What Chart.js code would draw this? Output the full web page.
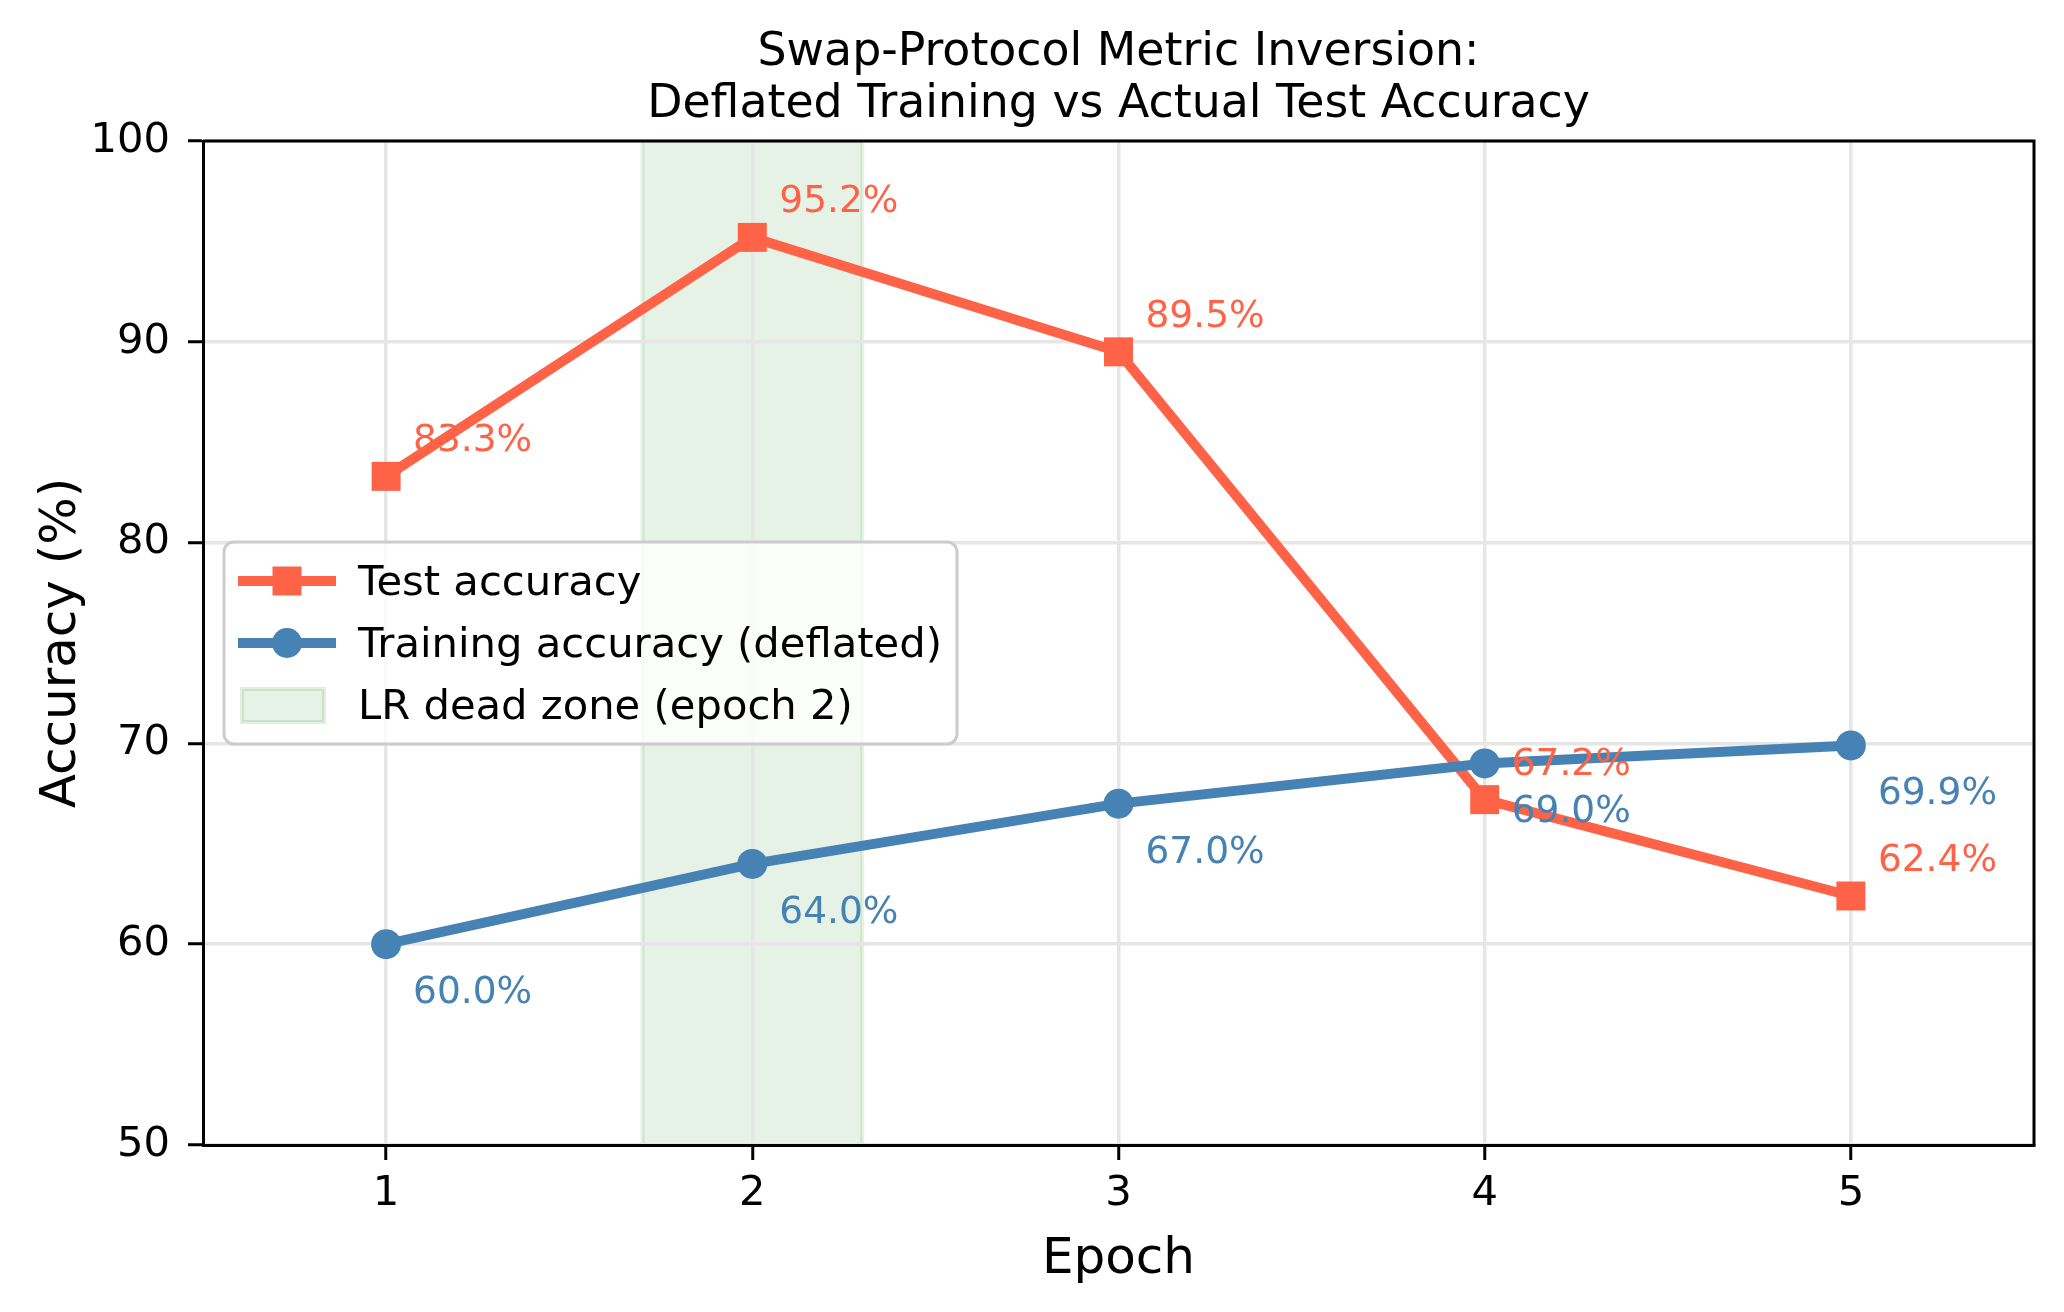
<!DOCTYPE html>
<html>
<head>
<meta charset="utf-8">
<script src="https://cdn.jsdelivr.net/npm/chart.js@4.4.1/dist/chart.umd.min.js"></script>
<style>
  body { margin: 0; background: #fff; }
  #wrap { width: 2064px; height: 1312px; }
</style>
</head>
<body>
<div id="wrap"><canvas id="mainChart" width="2064" height="1312"></canvas></div>
<script>
// ============================
// Data
// ============================
const epochs = [1, 2, 3, 4, 5];
const testAcc = [83.3, 95.2, 89.5, 67.2, 62.4];
const trainAcc = [60.0, 64.0, 67.0, 69.0, 69.9];
const yTicks = [50, 60, 70, 80, 90, 100];
const deadZone = [1.7, 2.3];

const titleLines = ["Swap-Protocol Metric Inversion:", "Deflated Training vs Actual Test Accuracy"];
const seriesLabels = ["Test accuracy", "Training accuracy (deflated)", "LR dead zone (epoch 2)"];

const RED = "#ff6347";
const BLUE = "#4682b4";
const FONT = "'DejaVu Sans', sans-serif";

Chart.defaults.font.family = FONT;
Chart.defaults.color = "#000";

// ============================
// Plugins
// ============================

// green shaded band, under the grid
const deadZonePlugin = {
  id: "deadZone",
  beforeDraw(chart) {
    const { ctx, chartArea, scales } = chart;
    const x0 = scales.x.getPixelForValue(deadZone[0]);
    const x1 = scales.x.getPixelForValue(deadZone[1]);
    ctx.save();
    ctx.fillStyle = "#fff";
    ctx.fillRect(0, 0, chart.width, chart.height);
    ctx.fillStyle = "rgba(0,128,0,0.1)";
    ctx.fillRect(x0, chartArea.top, x1 - x0, chartArea.bottom - chartArea.top);
    ctx.strokeStyle = "rgba(0,128,0,0.1)";
    ctx.lineWidth = 4;
    ctx.strokeRect(x0, chartArea.top, x1 - x0, chartArea.bottom - chartArea.top);
    ctx.restore();
  }
};

// value labels next to each point
const valueLabelPlugin = {
  id: "valueLabels",
  afterDatasetsDraw(chart) {
    const { ctx } = chart;
    ctx.save();
    ctx.font = "37.5px " + FONT;
    ctx.textAlign = "left";
    ctx.textBaseline = "alphabetic";
    chart.data.datasets.forEach((ds, i) => {
      const meta = chart.getDatasetMeta(i);
      ctx.fillStyle = ds.borderColor;
      meta.data.forEach((pt, j) => {
        const dy = ds.labelAbove ? -25 : 59;
        ctx.fillText(ds.data[j].y.toFixed(1) + "%", pt.x + 27, pt.y + dy);
      });
    });
    ctx.restore();
  }
};

// title, axis titles, spines and legend
const decorPlugin = {
  id: "decor",
  afterDraw(chart) {
    const { ctx, chartArea } = chart;
    const cx = (chartArea.left + chartArea.right) / 2;
    const cy = (chartArea.top + chartArea.bottom) / 2;
    ctx.save();

    // top and right spines
    ctx.strokeStyle = "#000";
    ctx.lineWidth = 3;
    ctx.beginPath();
    ctx.moveTo(chartArea.left, chartArea.top);
    ctx.lineTo(chartArea.right, chartArea.top);
    ctx.lineTo(chartArea.right, chartArea.bottom);
    ctx.stroke();

    // title
    ctx.fillStyle = "#000";
    ctx.textAlign = "center";
    ctx.textBaseline = "alphabetic";
    ctx.font = "45.8px " + FONT;
    ctx.fillText(titleLines[0], cx, 65);
    ctx.fillText(titleLines[1], cx, 117);

    // axis titles
    ctx.font = "50px " + FONT;
    ctx.fillText("Epoch", cx, 1273);
    ctx.save();
    ctx.translate(75, cy);
    ctx.rotate(-Math.PI / 2);
    ctx.fillText("Accuracy (%)", 0, 0);
    ctx.restore();

    // legend
    const lx = 224, ly = 542, lw = 733, lh = 202;
    ctx.beginPath();
    ctx.roundRect(lx, ly, lw, lh, 10);
    ctx.fillStyle = "rgba(255,255,255,0.8)";
    ctx.fill();
    ctx.strokeStyle = "#cccccc";
    ctx.lineWidth = 3;
    ctx.stroke();

    const rows = [581, 643, 705];
    const handles = [RED, BLUE];
    handles.forEach((col, i) => {
      const y = rows[i];
      ctx.strokeStyle = col;
      ctx.lineWidth = 10;
      ctx.beginPath();
      ctx.moveTo(238, y);
      ctx.lineTo(336, y);
      ctx.stroke();
      ctx.fillStyle = col;
      if (i === 0) {
        ctx.fillRect(287 - 14.5, y - 14.5, 29, 29);
      } else {
        ctx.beginPath();
        ctx.arc(287, y, 15, 0, Math.PI * 2);
        ctx.fill();
      }
    });
    ctx.fillStyle = "rgba(0,128,0,0.1)";
    ctx.fillRect(242, 689, 82, 33);
    ctx.strokeStyle = "rgba(0,128,0,0.12)";
    ctx.lineWidth = 4;
    ctx.strokeRect(242, 689, 82, 33);

    ctx.fillStyle = "#000";
    ctx.font = "41.7px " + FONT;
    ctx.textAlign = "left";
    ctx.textBaseline = "middle";
    seriesLabels.forEach((t, i) => ctx.fillText(t, 358, rows[i] + 3));

    ctx.restore();
  }
};

// ============================
// Chart
// ============================
const ctx = document.getElementById("mainChart").getContext("2d");

const mainChart = new Chart(ctx, {
  type: "line",
  data: {
    datasets: [
      {
        label: seriesLabels[0],
        data: epochs.map((e, i) => ({ x: e, y: testAcc[i] })),
        borderColor: RED,
        backgroundColor: RED,
        borderWidth: 10,
        pointStyle: "rect",
        pointRadius: 20.5,
        pointBorderWidth: 0,
        fill: false,
        order: 2,
        labelAbove: true
      },
      {
        label: seriesLabels[1],
        data: epochs.map((e, i) => ({ x: e, y: trainAcc[i] })),
        borderColor: BLUE,
        backgroundColor: BLUE,
        borderWidth: 10,
        pointStyle: "circle",
        pointRadius: 15,
        pointBorderWidth: 0,
        fill: false,
        order: 1,
        labelAbove: false
      }
    ]
  },
  options: {
    responsive: false,
    animation: false,
    layout: { padding: { top: 141, right: 30, left: 0, bottom: 0 } },
    plugins: {
      legend: { display: false },
      tooltip: { enabled: false },
      title: { display: false }
    },
    scales: {
      x: {
        type: "linear",
        min: 0.5,
        max: 5.5,
        afterBuildTicks: (s) => { s.ticks = epochs.map(v => ({ value: v })); },
        afterFit: (s) => { s.height = 167; },
        ticks: {
          font: { size: 41.7 },
          color: "#000",
          padding: 9,
          maxRotation: 0,
          callback: (v) => String(v)
        },
        grid: {
          color: "#e6e6e6",
          lineWidth: 3.5,
          drawTicks: true,
          tickLength: 15,
          tickColor: "#000",
          tickWidth: 3
        },
        border: { display: true, color: "#000", width: 3 }
      },
      y: {
        min: 50,
        max: 100,
        afterBuildTicks: (s) => { s.ticks = yTicks.map(v => ({ value: v })); },
        afterFit: (s) => { s.width = 203; },
        ticks: {
          font: { size: 41.7 },
          color: "#000",
          padding: 18
        },
        grid: {
          color: "#e6e6e6",
          lineWidth: 3.5,
          drawTicks: true,
          tickLength: 15,
          tickColor: "#000",
          tickWidth: 3
        },
        border: { display: true, color: "#000", width: 3 }
      }
    }
  },
  plugins: [deadZonePlugin, valueLabelPlugin, decorPlugin]
});
</script>
</body>
</html>
